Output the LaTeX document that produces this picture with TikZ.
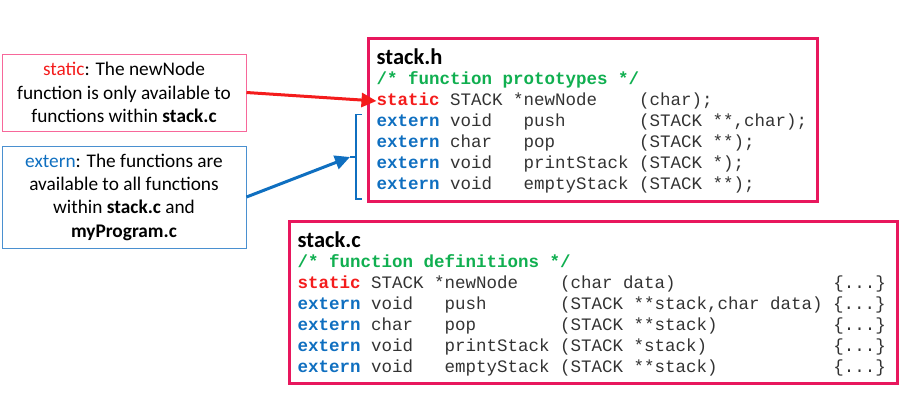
\documentclass[tikz,border=0pt]{standalone}
\usepackage{fontspec}
\setmainfont{Carlito}
\setmonofont{Liberation Mono}
\usepackage{tikz}
\usetikzlibrary{arrows.meta}

\definecolor{boxpink}{HTML}{E8175D}
\definecolor{notepink}{HTML}{F7679A}
\definecolor{noteblue}{HTML}{4A90D0}
\definecolor{kwblue}{HTML}{0F6FC0}
\definecolor{kwred}{HTML}{F41C1C}
\definecolor{cmtgreen}{HTML}{10AF50}
\definecolor{codegray}{HTML}{333333}

\newcommand\kwstatic{\textcolor{kwred}{\bfseries static}}
\newcommand\kwextern{\textcolor{kwblue}{\bfseries extern}}
\newcommand\cmt[1]{\textcolor{cmtgreen}{\bfseries #1}}

\begin{document}
\begin{tikzpicture}[x=1pt,y=-1pt,
  note/.style={draw, line width=1pt, align=center, inner sep=0pt, minimum width=244pt, font=\fontsize{19.3}{23.3}\selectfont},
  filebox/.style={draw=boxpink, line width=3pt, inner sep=0pt},
  title/.style={anchor=west, inner sep=0pt, font=\fontsize{22.5}{22.5}\selectfont\bfseries},
  codeline/.style={anchor=west, inner sep=0pt, text height=12.5pt, text depth=3.5pt, text=codegray, font=\fontsize{17.5}{21}\selectfont\ttfamily}]
  \useasboundingbox (0,0) rectangle (910,407);

  % Notes on the left
  \node [note, draw=notepink, minimum height=77pt] (staticnote) at (124,92.5)
    {\textcolor{kwred}{static}: The newNode\\function is only available to\\functions within \textbf{stack.c}};
  \node [note, draw=noteblue, minimum height=102pt] (externnote) at (124,197)
    {\textcolor{kwblue}{extern}: The functions are\\available to all functions\\within \textbf{stack.c} and\\\textbf{myProgram.c}};

  % Header file
  \node [filebox, minimum width=449pt, minimum height=163pt] (stackh) at (592.5,119.5) {};
  \node [title] (htitle) at (376.5,57) {stack.h};
  \node [codeline] (h0) at (376.5,80) {\cmt{/*~function~prototypes~*/}};
  \node [codeline] (h1) at (376.5,101) {\kwstatic~STACK~*newNode~~~~(char);};
  \node [codeline] (h2) at (376.5,122) {\kwextern~void~~~push~~~~~~~(STACK~**,char);};
  \node [codeline] (h3) at (376.5,143) {\kwextern~char~~~pop~~~~~~~~(STACK~**);};
  \node [codeline] (h4) at (376.5,164) {\kwextern~void~~~printStack~(STACK~*);};
  \node [codeline] (h5) at (376.5,185) {\kwextern~void~~~emptyStack~(STACK~**);};

  % Source file
  \node [filebox, minimum width=608pt, minimum height=162pt] (stackc) at (593,302) {};
  \node [title] (ctitle) at (297.5,240) {stack.c};
  \node [codeline] (c0) at (297.5,263) {\cmt{/*~function~definitions~*/}};
  \node [codeline] (c1) at (297.5,284) {\kwstatic~STACK~*newNode~~~~(char~data)~~~~~~~~~~~~~~~\{...\}};
  \node [codeline] (c2) at (297.5,305) {\kwextern~void~~~push~~~~~~~(STACK~**stack,char~data)~\{...\}};
  \node [codeline] (c3) at (297.5,326) {\kwextern~char~~~pop~~~~~~~~(STACK~**stack)~~~~~~~~~~~\{...\}};
  \node [codeline] (c4) at (297.5,347) {\kwextern~void~~~printStack~(STACK~*stack)~~~~~~~~~~~~\{...\}};
  \node [codeline] (c5) at (297.5,368) {\kwextern~void~~~emptyStack~(STACK~**stack)~~~~~~~~~~~\{...\}};

  % Bracket over the extern lines
  \draw [kwblue, line width=1.6pt] (361.5,114.5) -| (356,199) -- (361.5,199);
  \coordinate (brk) at (350,157);
  \draw [kwblue, line width=1.6pt] (356,157) -- (brk);

  % Arrows
  \draw [-{Triangle[length=15pt,width=14pt]}, kwred, line width=3pt] (staticnote.east) -- (h1.west);
  \draw [-{Triangle[length=15pt,width=14pt]}, kwblue, line width=3pt] (externnote.east) -- (brk);
\end{tikzpicture}
\end{document}
